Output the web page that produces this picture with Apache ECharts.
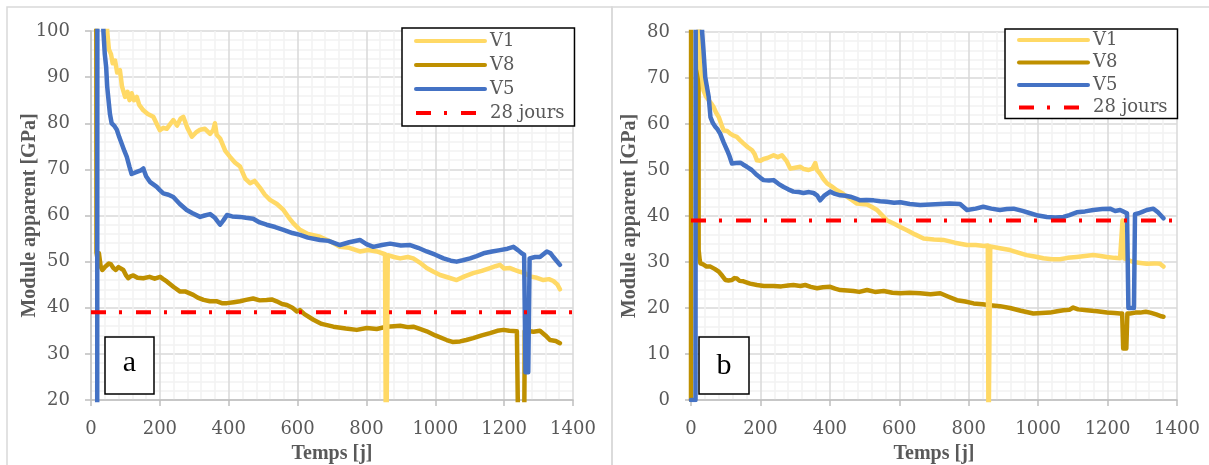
<!DOCTYPE html>
<html>
<head>
<meta charset="utf-8">
<script src="https://cdn.jsdelivr.net/npm/echarts@6/dist/echarts.min.js"></script>
<style>html,body{margin:0;padding:0;background:#fff}#c{width:1209px;height:465px}</style>
</head>
<body>
<div id="c"></div>
<script>
// ---- data: [day, GPa] ----
const seriesNames = ['V1', 'V8', 'V5', '28 jours'];
const xTicks = [0, 1400, 200];
const yTicksA = [20, 100, 10];
const yTicksB = [0, 80, 10];
const ref28 = [[0, 39], [1400, 39]];

const a_V1 = [[5,400],[44,104],[47,100],[52,96],[58,95],[63,93],[70,93.6],[76,91],[84,91.5],[90,88],[99,85.7],[106,86.8],[112,85],[118,86.5],[125,85],[133,85.7],[140,84],[152,82.8],[165,82],[181,81.4],[190,80],[200,78.5],[210,79],[220,78.8],[230,79.8],[239,80.7],[250,79.5],[260,81],[268,81.4],[280,79],[293,77.1],[305,78],[317,78.6],[331,78.8],[346,77.7],[355,78.5],[360,80],[365,77.5],[375,76.7],[390,74],[404,72.7],[418,71.5],[433,70.6],[448,68],[462,67],[475,67.5],[491,66],[505,64.5],[520,63.4],[540,62.5],[559,61.2],[575,59.5],[588,58.3],[607,56.9],[630,56],[665,55.4],[700,54.2],[723,53.2],[750,53],[781,52.2],[805,52.5],[830,52.2],[854,51.6],[857,0],[860,0],[862,51.4],[880,51],[898,50.7],[920,51],[936,50.7],[955,49.8],[975,48.6],[995,47.8],[1014,47.1],[1040,46.5],[1062,46],[1085,46.8],[1110,47.5],[1135,48],[1159,48.6],[1175,49],[1188,49.3],[1200,48.5],[1217,48.6],[1230,48.2],[1246,47.8],[1260,47.5],[1275,46.8],[1295,46.5],[1314,46],[1330,46.2],[1343,45.8],[1355,45],[1362,44]];

const a_V8 = [[12,400],[16,52],[20,50],[23,51.8],[28,49],[33,48.2],[40,48.8],[52,49.6],[58,49.4],[65,48.6],[72,48.2],[80,48.8],[94,48.2],[102,47],[108,46.4],[115,46.8],[123,47],[135,46.5],[152,46.4],[170,46.7],[185,46.3],[201,46.7],[210,46.2],[220,45.7],[240,44.5],[259,43.5],[275,43.5],[297,42.8],[310,42.2],[327,41.7],[345,41.4],[366,41.4],[380,41],[395,41],[415,41.2],[433,41.4],[450,41.7],[471,42],[490,41.6],[510,41.7],[525,41.8],[539,41.4],[555,40.8],[569,40.6],[585,40],[598,39.2],[607,39.5],[620,38.6],[646,37.4],[670,36.5],[704,35.9],[740,35.5],[772,35.2],[801,35.6],[830,35.4],[859,35.9],[880,36],[898,36.1],[920,35.8],[936,35.9],[955,35.4],[975,34.9],[1000,34],[1033,33],[1050,32.6],[1072,32.7],[1090,33],[1110,33.4],[1135,34],[1159,34.5],[1180,35],[1198,35.2],[1215,35],[1237,34.9],[1241,34.8],[1243,0],[1257,0],[1260,35],[1266,35],[1285,34.8],[1304,35],[1320,34],[1333,33],[1350,32.8],[1362,32.3]];

const a_V5 = [[0,5],[18,5],[20,400],[34,104],[36,100],[40,95],[44,92.2],[47,88],[50,85.7],[55,82],[60,80],[67,79.5],[75,78.6],[82,77],[89,75.6],[97,74],[104,72.7],[112,70.5],[118,69],[123,68.8],[135,69.5],[145,69.8],[152,70.2],[160,68.5],[171,67.3],[180,66.8],[191,66.2],[200,65.5],[210,64.8],[225,64.5],[239,64],[258,62.5],[278,61.2],[295,60.5],[317,59.7],[330,60],[346,60.3],[360,59.5],[375,58],[385,59],[395,60.1],[410,59.8],[433,59.7],[450,59.5],[471,59.3],[490,58.5],[510,58],[535,57.5],[559,56.9],[585,56.2],[607,55.8],[630,55.2],[665,54.7],[690,54.5],[723,53.6],[750,54.2],[781,54.7],[800,53.8],[820,53.2],[845,53.6],[869,53.9],[900,53.5],[927,53.6],[950,53],[975,52.2],[1000,51.5],[1024,50.7],[1045,50.2],[1062,50],[1080,50.3],[1101,50.7],[1120,51.2],[1140,51.8],[1165,52.2],[1188,52.5],[1210,52.8],[1227,53.2],[1240,52.5],[1251,51.8],[1258,51.5],[1262,26],[1270,26],[1274,50.7],[1290,51],[1304,51],[1324,52.2],[1335,51.8],[1343,51],[1352,50.2],[1362,49.3]];

const b_V1 = [[5,400],[24,90],[27,72],[32,70],[36,67.3],[43,66],[51,65.2],[58,64.5],[65,63.7],[72,62.5],[80,61.5],[87,60],[94,58.6],[104,58.5],[113,57.9],[122,57.5],[132,57.2],[141,56.5],[151,55.8],[163,55],[176,54.3],[183,53.5],[190,52.1],[200,52],[209,52.4],[220,52.6],[238,53.2],[250,52.8],[262,53.2],[275,52],[286,50.3],[300,50.5],[315,50.7],[325,50.2],[339,50],[350,50.3],[358,51.5],[363,50],[372,49.2],[382,48],[392,47.1],[406,46.4],[420,45.6],[435,45],[449,44.2],[463,43.5],[478,42.7],[492,42.6],[507,42.5],[520,42],[536,41.3],[550,40.2],[564,39.1],[585,38.3],[603,37.6],[625,36.8],[645,36],[670,35.1],[700,34.9],[727,34.8],[760,34.2],[795,33.7],[820,33.7],[845,33.5],[855,33.6],[857,-10],[860,-10],[862,33.4],[890,33],[919,32.6],[945,32],[967,31.5],[990,31.2],[1015,30.8],[1040,30.6],[1063,30.6],[1085,30.9],[1111,31.1],[1135,31.3],[1159,31.5],[1180,31.3],[1198,31.1],[1220,30.9],[1236,30.8],[1241,30.9],[1243,39],[1246,39],[1248,30.8],[1260,30.4],[1274,30],[1295,29.8],[1313,29.6],[1335,29.7],[1351,29.6],[1361,29]];

const b_V8 = [[0,0],[1,400],[20,400],[22,32.6],[25,30.5],[27,29.7],[35,29.5],[45,29],[56,29],[68,28.5],[80,27.9],[90,27],[99,26.1],[108,26],[118,26.1],[125,26.5],[132,26.4],[140,25.9],[151,25.8],[170,25.3],[190,25],[210,24.8],[238,24.8],[260,24.7],[280,24.9],[295,25],[315,24.8],[329,25],[345,24.6],[363,24.3],[380,24.5],[401,24.6],[415,24.2],[430,23.9],[450,23.8],[468,23.7],[485,23.5],[507,23.9],[530,23.5],[555,23.7],[580,23.3],[603,23.2],[630,23.3],[660,23.2],[690,23],[718,23.2],[740,22.5],[766,21.7],[790,21.4],[814,21],[840,20.8],[862,20.6],[890,20.4],[919,20],[950,19.4],[986,18.8],[1010,18.9],[1034,19],[1055,19.3],[1073,19.5],[1090,19.6],[1101,20.1],[1115,19.7],[1140,19.5],[1170,19.3],[1198,19],[1220,18.9],[1236,18.8],[1242,18.8],[1245,11.2],[1254,11.2],[1257,18.8],[1265,18.8],[1280,19],[1294,19],[1310,19.2],[1323,19],[1340,18.6],[1355,18.2],[1361,18.1]];

const b_V5 = [[0,0],[13,0],[15,400],[30,90],[32,80],[36,76],[41,70.2],[46,68],[51,65.9],[56,61.5],[63,60.2],[70,59.4],[77,58.8],[84,57.9],[94,56],[104,54.3],[111,53],[118,51.4],[130,51.5],[142,51.6],[150,51.2],[161,50.7],[175,50],[190,48.9],[200,48.3],[209,47.8],[225,47.7],[238,47.8],[252,47],[267,46.3],[280,45.8],[295,45.3],[310,45.2],[324,45],[340,45.2],[353,45],[363,44.5],[372,43.4],[385,44.5],[401,45.3],[415,44.8],[430,44.5],[445,44.4],[459,44.2],[475,43.8],[487,43.4],[505,43.5],[526,43.4],[545,43.2],[564,43.1],[585,42.9],[603,43],[630,42.6],[660,42.4],[690,42.5],[718,42.6],[745,42.7],[775,42.6],[795,41.3],[820,41.6],[842,42],[865,41.6],[890,41.3],[910,41.5],[929,41.6],[955,41.1],[977,40.6],[1000,40.1],[1025,39.8],[1050,39.7],[1073,39.8],[1090,40.2],[1111,40.8],[1135,41],[1159,41.3],[1185,41.5],[1207,41.6],[1222,41.1],[1236,41.3],[1250,40.8],[1256,40.6],[1260,20],[1276,20],[1279,40.4],[1290,40.6],[1300,40.9],[1313,41.3],[1332,41.6],[1345,40.8],[1355,40],[1361,39.5]];

// ---- styling ----
const COLORS = {V1: '#FFD966', V8: '#BF9000', V5: '#4472C4', '28 jours': '#FF0000'};
const TXT = '#595959';
const SERIF = 'DejaVu Serif';

function xAxisCfg(gridIndex) {
  return {
    type: 'value', gridIndex, min: xTicks[0], max: xTicks[1], interval: xTicks[2],
    name: 'Temps [j]', nameLocation: 'middle', nameGap: 44, nameMoveOverlap: false,
    nameTextStyle: {fontFamily: 'Liberation Serif', fontWeight: 'bold', fontSize: 20, color: TXT},
    axisLine: {show: true, lineStyle: {color: '#BFBFBF', width: 1.5}},
    axisTick: {show: true, length: 6, lineStyle: {color: '#BFBFBF', width: 1.5}},
    axisLabel: {color: TXT, fontFamily: SERIF, fontSize: 18, margin: 20, formatter: v => String(v)},
    splitLine: {show: true, lineStyle: {color: '#D9D9D9', width: 1.5}},
    minorTick: {show: false, splitNumber: 5},
    minorSplitLine: {show: true, lineStyle: {color: '#F2F2F2', width: 1.5}}
  };
}
function yAxisCfg(gridIndex, t) {
  return {
    type: 'value', gridIndex, min: t[0], max: t[1], interval: t[2],
    name: 'Module apparent [GPa]', nameLocation: 'middle', nameGap: 51, nameMoveOverlap: false,
    nameTextStyle: {fontFamily: 'Liberation Serif', fontWeight: 'bold', fontSize: 20, color: TXT},
    axisLine: {show: true, lineStyle: {color: '#BFBFBF', width: 1.5}},
    axisTick: {show: true, length: 6, lineStyle: {color: '#BFBFBF', width: 1.5}},
    axisLabel: {color: TXT, fontFamily: SERIF, fontSize: 18, margin: 21, formatter: v => String(v)},
    splitLine: {show: true, lineStyle: {color: '#D9D9D9', width: 1.5}},
    minorTick: {show: false, splitNumber: 5},
    minorSplitLine: {show: true, lineStyle: {color: '#F2F2F2', width: 1.5}}
  };
}
function lineSeries(name, data, idx, z) {
  const isRef = name === '28 jours';
  return {
    name, type: 'line', data, xAxisIndex: idx, yAxisIndex: idx,
    symbol: 'none', showSymbol: false, clip: true, z,
    itemStyle: {color: COLORS[name]},
    lineStyle: isRef
      ? {color: COLORS[name], width: 4, type: [15, 13, 3, 14], cap: 'butt'}
      : {color: COLORS[name], width: 4.5, cap: 'round', join: 'round'},
    emphasis: {disabled: true}
  };
}
function legendCfg(left, top, padding, gap) {
  return {
    data: seriesNames, orient: 'vertical', left, top, padding, itemGap: gap,
    itemWidth: 69, itemHeight: 14,
    backgroundColor: '#fff', borderColor: '#000', borderWidth: 1.5,
    itemStyle: {opacity: 0},
    lineStyle: {width: 4},
    textStyle: {color: TXT, fontFamily: SERIF, fontSize: 18, lineHeight: 18},
    selectedMode: false
  };
}
function labelBox(x, y, w, h, ch, ty) {
  return {
    type: 'group', z: 100,
    children: [
      {type: 'rect', z: 100, shape: {x, y, width: w, height: h}, style: {fill: '#fff', stroke: '#000', lineWidth: 1.5}},
      {type: 'text', z: 101, x: x + w / 2, y: ty, style: {text: ch, fill: '#000', font: '30px "Liberation Serif"', textAlign: 'center', textVerticalAlign: 'middle'}}
    ]
  };
}

const chart = echarts.init(document.getElementById('c'), null, {renderer: 'canvas'});
chart.setOption({
  animation: false,
  backgroundColor: '#fff',
  grid: [
    {left: 91, top: 31, width: 482, height: 369, containLabel: false, outerBoundsMode: 'none'},
    {left: 691, top: 32, width: 486, height: 368, containLabel: false, outerBoundsMode: 'none'}
  ],
  xAxis: [xAxisCfg(0), xAxisCfg(1)],
  yAxis: [yAxisCfg(0, yTicksA), yAxisCfg(1, yTicksB)],
  legend: [
    legendCfg(402, 28, [4, 10, 4, 12], 6),
    legendCfg(1005, 29, [2, 10, 2, 12], 4.5)
  ],
  graphic: [
    {type: 'rect', z: -10, silent: true, shape: {x: 7, y: 7, width: 605, height: 470}, style: {fill: 'none', stroke: '#D9D9D9', lineWidth: 1.5}},
    {type: 'rect', z: -10, silent: true, shape: {x: 612, y: 7, width: 605, height: 470}, style: {fill: 'none', stroke: '#D9D9D9', lineWidth: 1.5}},
    labelBox(105, 337, 49, 57, 'a', 363),
    labelBox(699, 337, 50, 57, 'b', 366)
  ],
  series: [
    lineSeries('V1', a_V1, 0, 3),
    lineSeries('V8', a_V8, 0, 2),
    lineSeries('V5', a_V5, 0, 4),
    lineSeries('28 jours', ref28, 0, 5),
    lineSeries('V1', b_V1, 1, 3),
    lineSeries('V8', b_V8, 1, 2),
    lineSeries('V5', b_V5, 1, 4),
    lineSeries('28 jours', ref28, 1, 5)
  ]
});
</script>
</body>
</html>
